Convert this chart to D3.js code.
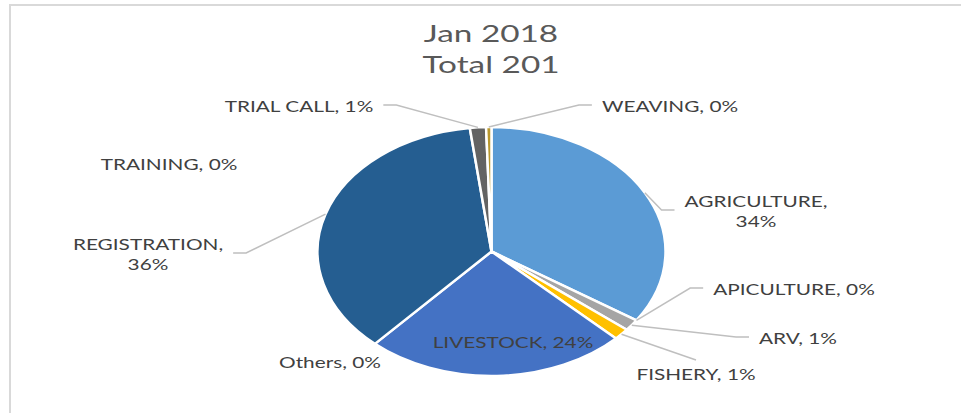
<!DOCTYPE html>
<html>
<head>
<meta charset="utf-8">
<script src="https://cdn.jsdelivr.net/npm/d3@7"></script>
<style>
  html, body { margin: 0; padding: 0; background: #fff; }
  svg { display: block; }
  text { font-family: Lato, "Open Sans", sans-serif; }
</style>
</head>
<body>
<svg id="chart" width="961" height="413"></svg>
<script>
// ---- data ----
const categories = ["AGRICULTURE", "APICULTURE", "ARV", "FISHERY", "LIVESTOCK", "Others", "REGISTRATION", "TRAINING", "TRIAL CALL", "WEAVING"];
const values = [69, 0, 3, 3, 49, 0, 73, 0, 3, 1];
const titleLines = ["Jan 2018", "Total 201"];

// ---- style / layout ----
const colors = ["#5B9BD5", "#ED7D31", "#A5A5A5", "#FFC000", "#4472C4", "#70AD47", "#255E91", "#9E480E", "#636363", "#B8972E"];
// label layout: centre x, first baseline y, leader side, two-line flag
const labelLayout = [
  {x: 756, y: 207, leader: "left", split: true},
  {x: 794, y: 295, leader: "left"},
  {x: 798, y: 344, leader: "left"},
  {x: 696, y: 380, leader: "top"},
  {x: 513, y: 348, leader: "none"},
  {x: 330, y: 368, leader: "none"},
  {x: 148, y: 250, leader: "right", split: true},
  {x: 169, y: 170, leader: "none"},
  {x: 299, y: 112, leader: "right"},
  {x: 670, y: 112, leader: "left"}
];

const W = 961, H = 413;
const cx = 491.5, cy = 251.5, ry = 124.5, rx = 174;
const sxText = 1.3;
const capH = 12, lineGap = 20;

const svg = d3.select("#chart");

// chart border (top and left visible)
svg.append("rect")
  .attr("x", 10).attr("y", 5).attr("width", W + 20).attr("height", H + 20)
  .attr("fill", "#fff").attr("stroke", "#d9d9d9").attr("stroke-width", 2);

// title
const title = svg.append("g");
titleLines.forEach((t, i) => {
  title.append("text")
    .attr("transform", `translate(${491},${42 + i * 31}) scale(1.45,1)`)
    .attr("text-anchor", "middle")
    .attr("font-size", 23)
    .attr("fill", "#595959")
    .text(t);
});

// pie
const total = d3.sum(values);
const pct = d3.format(".0%");
const arcs = d3.pie().sort(null).value(d => d)(values);
const arc = d3.arc().innerRadius(0).outerRadius(ry);

const pieG = svg.append("g")
  .attr("transform", `translate(${cx},${cy}) scale(${rx / ry},1)`);

pieG.selectAll("path")
  .data(arcs.filter(a => a.value > 0))
  .join("path")
  .attr("d", arc)
  .attr("fill", d => colors[d.index])
  .attr("stroke", "#fff")
  .attr("stroke-width", 2.5)
  .attr("vector-effect", "non-scaling-stroke")
  .attr("stroke-linejoin", "round");

// labels + leader lines
const labelG = svg.append("g");
const leaderG = svg.insert("g", "g:last-child");

arcs.forEach((a, i) => {
  const L = labelLayout[i];
  const label = categories[i] + ", " + pct(values[i] / total);
  const lines = L.split ? [categories[i] + ",", pct(values[i] / total)] : [label];
  let maxW = 0;
  const firstW = [];
  lines.forEach((ln, j) => {
    const t = labelG.append("text")
      .attr("transform", `translate(${L.x},${L.y + j * lineGap}) scale(${sxText},1)`)
      .attr("text-anchor", "middle")
      .attr("font-size", 16)
      .attr("fill", "#404040")
      .text(ln);
    const w = t.node().getComputedTextLength() * sxText;
    firstW.push(w);
    maxW = Math.max(maxW, w);
  });
  if (L.leader === "none") return;
  const mid = (a.startAngle + a.endAngle) / 2;
  const sx = cx + rx * Math.sin(mid);
  const sy = cy - ry * Math.cos(mid);
  const top = L.y - capH;
  const bottom = L.y + (lines.length - 1) * lineGap;
  const my = (top + bottom) / 2 - 1;
  let pts;
  if (L.leader === "left") {
    const ex = L.x - firstW[0] / 2 - 10;
    pts = [[sx, sy], [ex - 13, my], [ex, my]];
  } else if (L.leader === "right") {
    const ex = L.x + firstW[0] / 2 + 10;
    pts = [[sx, sy], [ex + 13, my], [ex, my]];
  } else {
    pts = [[sx, sy], [L.x, top - 8]];
  }
  leaderG.append("path")
    .attr("d", d3.line()(pts))
    .attr("fill", "none")
    .attr("stroke", "#bfbfbf")
    .attr("stroke-width", 1.5);
});
</script>
</body>
</html>
